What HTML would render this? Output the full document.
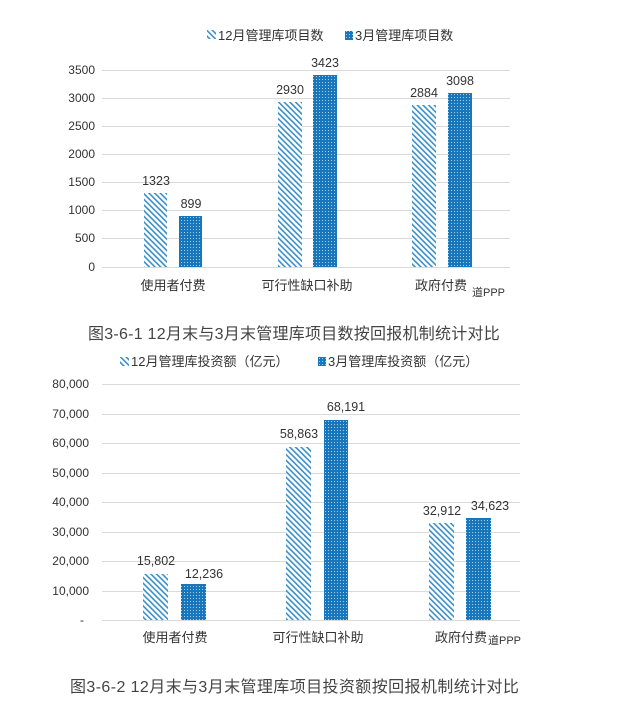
<!DOCTYPE html>
<html><head><meta charset="utf-8"><style>
body{margin:0;background:#fff;width:617px;height:704px;overflow:hidden}
svg{display:block}
text{font-family:"Liberation Sans","Noto Sans CJK SC",sans-serif;fill:#333}
</style></head><body>
<svg width="617" height="704" viewBox="0 0 617 704">
<defs>
<pattern id="h" width="4" height="4" patternUnits="userSpaceOnUse" patternTransform="rotate(-45)">
<rect width="4" height="4" fill="#fff"/><rect width="1.6" height="4" fill="#3a8fc8"/></pattern>
<pattern id="d" width="3" height="3" patternUnits="userSpaceOnUse">
<rect width="3" height="3" fill="#1976bb"/><rect x="1" y="1" width="1" height="1" fill="#9fd0f0"/></pattern>
</defs>
<!-- chart 1 -->
<rect x="207" y="30" width="9" height="9" fill="url(#h)"/>
<text x="218" y="40" font-size="13">12月管理库项目数</text>
<rect x="345" y="31" width="8" height="9" fill="url(#d)"/>
<text x="355" y="40" font-size="13">3月管理库项目数</text>
<g stroke="#d9d9d9" stroke-width="1">
<line x1="102" x2="510" y1="70.5" y2="70.5"/><line x1="102" x2="510" y1="98.5" y2="98.5"/>
<line x1="102" x2="510" y1="126.5" y2="126.5"/><line x1="102" x2="510" y1="154.5" y2="154.5"/>
<line x1="102" x2="510" y1="182.5" y2="182.5"/><line x1="102" x2="510" y1="210.5" y2="210.5"/>
<line x1="102" x2="510" y1="238.5" y2="238.5"/><line x1="102" x2="510" y1="267.5" y2="267.5"/>
</g>
<g font-size="12" text-anchor="end">
<text x="95" y="74">3500</text><text x="95" y="102">3000</text><text x="95" y="130">2500</text>
<text x="95" y="158">2000</text><text x="95" y="186">1500</text><text x="95" y="214">1000</text>
<text x="95" y="242">500</text><text x="95" y="271">0</text>
</g>
<rect x="144" y="193" width="23" height="74" fill="url(#h)"/>
<rect x="179" y="216" width="23" height="51" fill="url(#d)"/>
<rect x="278" y="102" width="24" height="165" fill="url(#h)"/>
<rect x="313" y="75" width="24" height="192" fill="url(#d)"/>
<rect x="412" y="105" width="24" height="162" fill="url(#h)"/>
<rect x="448" y="93" width="24" height="174" fill="url(#d)"/>
<g font-size="12.5" text-anchor="middle">
<text x="156" y="185">1323</text><text x="191" y="208">899</text>
<text x="290" y="94">2930</text><text x="325" y="67">3423</text>
<text x="424" y="97">2884</text><text x="460" y="85">3098</text>
</g>
<g font-size="13" text-anchor="middle">
<text x="173" y="290">使用者付费</text><text x="307" y="290">可行性缺口补助</text><text x="441" y="290">政府付费</text>
</g>
<text x="472" y="296" font-size="11" fill="#999">道PPP</text>
<text x="88" y="339" font-size="16" letter-spacing="0.25" style="fill:#444">图3-6-1  12月末与3月末管理库项目数按回报机制统计对比</text>
<!-- chart 2 -->
<rect x="120" y="357" width="9" height="9" fill="url(#h)"/>
<text x="131" y="366" font-size="13">12月管理库投资额（亿元）</text>
<rect x="318" y="357" width="8" height="9" fill="url(#d)"/>
<text x="328" y="366" font-size="13">3月管理库投资额（亿元）</text>
<g stroke="#d9d9d9" stroke-width="1">
<line x1="102" x2="520" y1="384.5" y2="384.5"/><line x1="102" x2="520" y1="414.5" y2="414.5"/>
<line x1="102" x2="520" y1="443.5" y2="443.5"/><line x1="102" x2="520" y1="473.5" y2="473.5"/>
<line x1="102" x2="520" y1="502.5" y2="502.5"/><line x1="102" x2="520" y1="532.5" y2="532.5"/>
<line x1="102" x2="520" y1="561.5" y2="561.5"/><line x1="102" x2="520" y1="591.5" y2="591.5"/>
<line x1="102" x2="520" y1="620.5" y2="620.5"/>
</g>
<g font-size="12" text-anchor="end">
<text x="89" y="388">80,000</text><text x="89" y="418">70,000</text><text x="89" y="447">60,000</text>
<text x="89" y="477">50,000</text><text x="89" y="506">40,000</text><text x="89" y="536">30,000</text>
<text x="89" y="565">20,000</text><text x="89" y="595">10,000</text><text x="84" y="624">-</text>
</g>
<rect x="143" y="574" width="25" height="46" fill="url(#h)"/>
<rect x="181" y="584" width="25" height="36" fill="url(#d)"/>
<rect x="286" y="447" width="25" height="173" fill="url(#h)"/>
<rect x="324" y="420" width="24" height="200" fill="url(#d)"/>
<rect x="429" y="523" width="25" height="97" fill="url(#h)"/>
<rect x="466" y="518" width="25" height="102" fill="url(#d)"/>
<g font-size="12.5" text-anchor="middle">
<text x="156" y="565">15,802</text><text x="204" y="578">12,236</text>
<text x="299" y="438">58,863</text><text x="346" y="411">68,191</text>
<text x="442" y="515">32,912</text><text x="490" y="510">34,623</text>
</g>
<g font-size="13" text-anchor="middle">
<text x="175" y="642">使用者付费</text><text x="318" y="642">可行性缺口补助</text><text x="461" y="642">政府付费</text>
</g>
<text x="488" y="644" font-size="11" fill="#999">道PPP</text>
<text x="70" y="692" font-size="16" letter-spacing="0.4" style="fill:#444">图3-6-2  12月末与3月末管理库项目投资额按回报机制统计对比</text>
</svg>
</body></html>
